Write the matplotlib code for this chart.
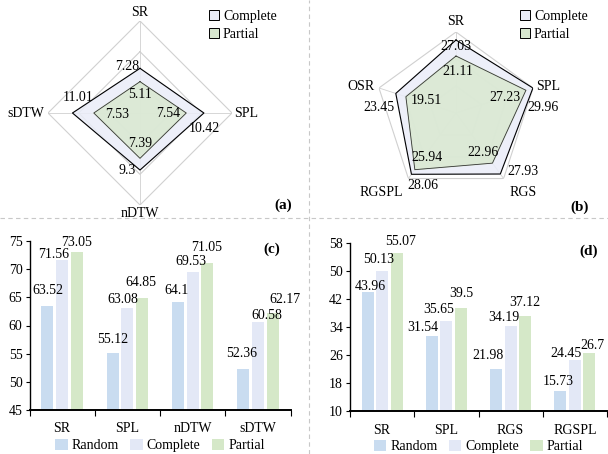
import numpy as np
import matplotlib
matplotlib.use("Agg")
import matplotlib.pyplot as plt
from matplotlib.patches import Patch
from matplotlib.lines import Line2D

plt.rcParams['font.family'] = ['Liberation Serif', 'DejaVu Serif']
plt.rcParams['font.size'] = 10

# (a) radar
a_axes = ['SR', 'SPL', 'nDTW', 'sDTW']
a_complete = [7.28, 10.42, 9.3, 11.01]
a_partial = [5.11, 7.54, 7.39, 7.53]
a_rings = [5, 10, 15]

# (b) radar
b_axes = ['SR', 'SPL', 'RGS', 'RGSPL', 'OSR']
b_complete = [27.03, 29.96, 27.93, 28.06, 23.45]
b_partial = [21.11, 27.23, 22.96, 25.94, 19.51]
b_rings = [10, 20, 30]

# (c) bars
c_metrics = ['SR', 'SPL', 'nDTW', 'sDTW']
c_random = [63.52, 55.12, 64.1, 52.36]
c_complete = [71.56, 63.08, 69.53, 60.58]
c_partial = [73.05, 64.85, 71.05, 62.17]
c_yticks = [45, 50, 55, 60, 65, 70, 75]

# (d) bars
d_metrics = ['SR', 'SPL', 'RGS', 'RGSPL']
d_random = [43.96, 31.54, 21.98, 15.73]
d_complete = [50.13, 35.65, 34.19, 24.45]
d_partial = [55.07, 39.5, 37.12, 26.7]
d_yticks = [10, 18, 26, 34, 42, 50, 58]

col_random = '#c9dcf0'
col_complete = '#e3e8f6'
col_partial = '#d5e8c8'
rad_complete = '#eaedf8'
rad_partial = '#d9e8d0'
grid_col = '#d0d0d0'

W, H = 608, 454
fig = plt.figure(figsize=(6.08, 4.54), dpi=100)


def px_rect(cx, cy, r):
    # square axes centred at pixel (cx, cy) with half-size r
    return [(cx - r) / W, 1 - (cy + r) / H, 2 * r / W, 2 * r / H]


def radar(rect, names, comp, part, rings, comp_offs, part_offs, name_pos):
    ax = fig.add_axes(rect, projection='polar')
    ax.set_theta_offset(np.pi / 2)
    ax.set_theta_direction(-1)
    ax.set_ylim(0, rings[-1])
    ax.grid(False)
    ax.spines['polar'].set_visible(False)
    ax.set_xticks([])
    ax.set_yticks([])
    ax.patch.set_alpha(0)
    n = len(names)
    ang = np.linspace(0, 2 * np.pi, n, endpoint=False)
    angc = np.append(ang, ang[0])
    for r in rings:
        ax.plot(angc, [r] * (n + 1), color=grid_col, lw=0.8, zorder=1)
    for a in ang:
        ax.plot([a, a], [0, rings[-1]], color=grid_col, lw=0.6, zorder=1)
    cc = np.append(comp, comp[0])
    pp = np.append(part, part[0])
    ax.fill(angc, cc, color=rad_complete, alpha=0.85, zorder=2)
    ax.plot(angc, cc, color='black', lw=0.8, zorder=3)
    ax.fill(angc, pp, color=rad_partial, alpha=0.85, zorder=4)
    ax.plot(angc, pp, color='#333333', lw=0.6, zorder=5)
    for a, v, off in zip(ang, comp, comp_offs):
        ax.annotate(f"{v:g}", xy=(a, v), xytext=off, textcoords='offset points',
                    ha='center', va='center', zorder=6)
    for a, v, off in zip(ang, part, part_offs):
        ax.annotate(f"{v:g}", xy=(a, v), xytext=off, textcoords='offset points',
                    ha='center', va='center', zorder=6)
    for a, name, (r, ha, va) in zip(ang, names, name_pos):
        ax.text(a, r, name, ha=ha, va=va)
    return ax


# panel (a)
radar(px_rect(140, 113, 92), a_axes, a_complete, a_partial, a_rings,
      comp_offs=[(-9, 1), (0, -11), (-9, 0), (4, 11)],
      part_offs=[(0, -9.5), (-13, 0), (0, 11), (17, -1)],
      name_pos=[(15.3, 'center', 'bottom'), (15.4, 'left', 'center'),
                (15.3, 'center', 'top'), (15.6, 'right', 'center')])
fig.text(283 / W, 1 - 205 / H, '(a)', fontweight='bold', fontsize=11,
         ha='center', va='center')

# panel (b)
radar(px_rect(456, 113, 81), b_axes, b_complete, b_partial, b_rings,
      comp_offs=[(0, -5), (7, -14), (16, 2), (8, -8), (-12, -10)],
      part_offs=[(1, -11), (-15, -5), (-7, 8), (9, 9), (15, -3)],
      name_pos=[(31.5, 'center', 'bottom'), (31.3, 'left', 'center'),
                (33.5, 'left', 'top'), (33.5, 'right', 'top'),
                (31.5, 'right', 'center')])
fig.text(580 / W, 1 - 207 / H, '(b)', fontweight='bold', fontsize=11,
         ha='center', va='center')

# radar legends
for x0 in (209, 520):
    fig.legend(handles=[Patch(facecolor=rad_complete, edgecolor='black', lw=0.7, label='Complete'),
                        Patch(facecolor=rad_partial, edgecolor='black', lw=0.7, label='Partial')],
               loc='upper left', bbox_to_anchor=(x0 / W, 1 - 10 / H), frameon=False,
               handlelength=0.7, handleheight=0.7, handletextpad=0.3,
               labelspacing=0.35, borderpad=0, borderaxespad=0, fontsize=10)


def bars(rect, metrics, rnd, comp, part, yticks, label, offs):
    ax = fig.add_axes(rect)
    x = np.arange(len(metrics))
    w = 0.185
    step = 0.225
    series = ((rnd, col_random, -step, 'Random'),
              (comp, col_complete, 0, 'Complete'),
              (part, col_partial, step, 'Partial'))
    for k, (vals, col, off, name) in enumerate(series):
        ax.bar(x + off, vals, w, color=col, label=name, zorder=2)
        for i, (xi, v) in enumerate(zip(x + off, vals)):
            ax.annotate(f"{v:g}", xy=(xi, v), xytext=offs[i][k],
                        textcoords='offset points', ha='center', va='center',
                        fontsize=10)
    ax.set_xlim(-0.5, len(metrics) - 0.5)
    ax.set_ylim(yticks[0], yticks[-1])
    ax.set_yticks(yticks)
    ax.set_xticks(x)
    ax.set_xticklabels(metrics)
    ax.set_xticks(np.arange(-0.5, len(metrics)), minor=True)
    ax.tick_params(axis='x', which='major', length=0, pad=9)
    ax.tick_params(axis='x', which='minor', length=4, width=0.8)
    ax.tick_params(axis='y', length=3, width=0.8, pad=2)
    ax.spines['top'].set_visible(False)
    ax.spines['right'].set_visible(False)
    ax.spines['bottom'].set_linewidth(1.4)
    ax.spines['left'].set_linewidth(1.0)
    ax.legend(loc='center', bbox_to_anchor=(0.5, -0.21), ncol=3, frameon=False,
              handlelength=0.9, handleheight=0.9, handletextpad=0.3,
              columnspacing=0.8, borderaxespad=0, fontsize=10)
    ax.text(0.93, 0.95, label, transform=ax.transAxes, fontweight='bold',
            fontsize=11, ha='center', va='center')
    return ax


# value-label offsets (points) per group: random, complete, partial
c_offs = [[(0.5, 11), (-6, 4.3), (0, 6.5)],
          [(0, 10), (-3.6, 6.5), (-0.7, 11)],
          [(-0.7, 8.6), (-1.4, 7.2), (-0.7, 11)],
          [(-1.4, 11), (6.5, 5), (8.6, 10)]]
d_offs = [[(2.2, 4.3), (-2.2, 8), (2.9, 8.6)],
          [(-6.5, 5.8), (-5.8, 8.6), (0, 10)],
          [(-5.8, 10), (-5, 6.5), (0, 10)],
          [(-1.4, 6.5), (-6.5, 5), (2.2, 5)]]

bars([29.5 / W, 1 - 410 / H, 261 / W, 169 / H], c_metrics, c_random, c_complete,
     c_partial, c_yticks, '(c)', c_offs)
bars([350 / W, 1 - 411 / H, 257 / W, 168 / H], d_metrics, d_random, d_complete,
     d_partial, d_yticks, '(d)', d_offs)

# dashed separators
fig.add_artist(Line2D([0, 1], [1 - 218 / H, 1 - 218 / H], transform=fig.transFigure,
                      ls=(0, (4, 3)), color='#c8c8c8', lw=0.8))
fig.add_artist(Line2D([309 / W, 309 / W], [0, 1], transform=fig.transFigure,
                      ls=(0, (4, 3)), color='#c8c8c8', lw=0.8))

fig.savefig('out.png', dpi=100)
